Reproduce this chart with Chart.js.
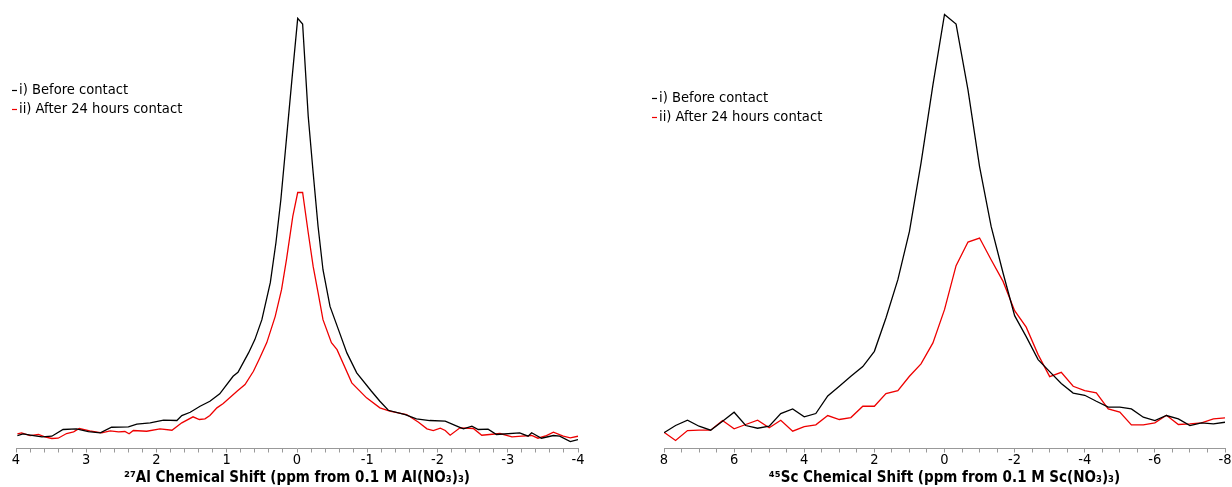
<!DOCTYPE html>
<html lang="en">
<head>
    <meta charset="UTF-8">
    <title>NMR Chemical Shift</title>
    <script src="https://cdn.jsdelivr.net/npm/chart.js"></script>
    <style>
        body {
            margin: 0;
            background: #fff;
            font-family: "DejaVu Sans Condensed", "DejaVu Sans", sans-serif;
        }
        .panel {
            position: absolute;
            top: 0;
            height: 487px;
        }
        #alBox { left: 0; width: 600px; }
        #scBox { left: 630px; width: 602px; }
    </style>
</head>
<body>

<div class="panel" id="alBox"><canvas id="alChart"></canvas></div>
<div class="panel" id="scBox"><canvas id="scChart"></canvas></div>

<script>
// labels
const seriesLabels = ["i) Before contact", "ii) After 24 hours contact"];
const alTitle = "\u00B2\u2077Al Chemical Shift (ppm from 0.1 M Al(NO\u2083)\u2083)";
const scTitle = "\u2074\u2075Sc Chemical Shift (ppm from 0.1 M Sc(NO\u2083)\u2083)";

// 27Al, before contact (ppm, intensity)
const alBeforeShift = [3.98, 3.90, 3.75, 3.63, 3.49, 3.33, 3.14, 2.97, 2.80, 2.64, 2.40, 2.28, 2.09, 1.90, 1.71, 1.64,
    1.52, 1.38, 1.24, 1.10, 0.91, 0.84, 0.69, 0.60, 0.50, 0.38, 0.30, 0.23, 0.16, 0.075, -0.01, -0.08,
    -0.16, -0.23, -0.30, -0.37, -0.47, -0.59, -0.71, -0.85, -1.06, -1.18, -1.30, -1.54, -1.70, -1.89, -2.11,
    -2.30, -2.37, -2.49, -2.58, -2.72, -2.84, -3.17, -3.29, -3.34, -3.48, -3.65, -3.74, -3.89, -4.00];
const alBefore = [2.96, 3.35, 2.96, 2.67, 2.80, 4.33, 4.49, 3.87, 3.58, 4.85, 4.94, 5.54, 5.85, 6.45, 6.38, 7.52,
    8.27, 9.64, 10.77, 12.46, 16.47, 17.38, 21.8, 24.83, 29.38, 37.81, 46.92, 56.72, 68.86, 83.67, 98.1, 96.8,
    75.7, 62.87, 50.64, 40.77, 32.41, 27.11, 21.8, 17.24, 13.05, 10.77, 8.72, 7.74, 6.77, 6.38, 6.22,
    4.94, 4.49, 5.08, 4.33, 4.40, 3.19, 3.58, 2.80, 3.58, 2.35, 2.96, 2.80, 1.59, 2.05];

// 27Al, after 24 hours contact
const alAfterShift = [3.98, 3.92, 3.80, 3.68, 3.59, 3.49, 3.40, 3.28, 3.18, 3.10, 2.95, 2.78, 2.66, 2.54, 2.45, 2.39,
    2.33, 2.14, 1.95, 1.78, 1.64, 1.48, 1.39, 1.31, 1.24, 1.14, 1.05, 0.85, 0.74, 0.62, 0.53, 0.43, 0.31,
    0.22, 0.15, 0.06, -0.01, -0.08, -0.16, -0.23, -0.30, -0.37, -0.49, -0.57, -0.78, -0.99, -1.18, -1.32,
    -1.56, -1.73, -1.85, -1.94, -2.04, -2.11, -2.18, -2.32, -2.51, -2.63, -2.89, -3.06, -3.20, -3.34, -3.43,
    -3.55, -3.65, -3.79, -3.89, -4.00];
const alAfter = [3.35, 3.58, 2.96, 3.19, 2.67, 2.28, 2.35, 3.42, 3.80, 4.56, 4.03, 3.58, 4.03, 3.80, 3.87, 3.35,
    4.10, 3.94, 4.49, 4.17, 5.85, 7.22, 6.61, 6.77, 7.52, 9.27, 10.25, 13.12, 14.58, 17.61, 20.66, 24.15, 30.14,
    36.22, 43.05, 52.92, 58.38, 58.38, 49.2, 41.53, 35.54, 29.38, 24.15, 22.55, 14.97, 11.55, 9.27, 8.50,
    7.74, 5.99, 4.49, 4.10, 4.62, 4.10, 3.03, 4.72, 4.56, 3.03, 3.42, 2.67, 2.80, 2.96, 2.35,
    2.96, 3.71, 2.80, 2.44, 2.80];

// 45Sc, both spectra on the same ppm grid
const scShift = [8.00, 7.67, 7.33, 7.00, 6.67, 6.33, 6.00, 5.67, 5.33, 5.00, 4.67, 4.33, 4.00, 3.67, 3.33, 3.00,
    2.67, 2.33, 2.00, 1.67, 1.33, 1.00, 0.67, 0.33, 0.00, -0.33, -0.67, -1.00, -1.33, -1.67, -2.00, -2.33,
    -2.67, -3.00, -3.33, -3.67, -4.00, -4.33, -4.67, -5.00, -5.33, -5.67, -6.00, -6.33, -6.67, -7.00, -7.33,
    -7.67, -8.00];
const scBefore = [3.58, 5.24, 6.45, 5.08, 4.17, 6.22, 8.27, 5.24, 4.62, 5.08, 7.97, 9.04, 7.22, 7.97, 12.0, 14.19,
    16.47, 18.68, 22.16, 29.77, 38.5, 49.5, 65.08, 82.92, 99.0, 96.8, 81.78, 64.3, 50.64, 40.02, 30.3, 25.51,
    20.27, 17.54, 14.81, 12.64, 12.14, 10.77, 9.45, 9.45, 9.04, 7.13, 6.38, 7.52, 6.77, 5.24, 5.85,
    5.63, 5.99];
const scAfter = [3.71, 1.82, 4.10, 4.17, 4.17, 6.38, 4.49, 5.47, 6.45, 4.72, 6.45, 3.94, 5.01, 5.40, 7.52, 6.61,
    7.06, 9.64, 9.64, 12.53, 13.21, 16.47, 19.29, 24.08, 31.66, 41.69, 47.08, 48.0, 43.05, 38.11, 31.44, 27.68,
    21.41, 16.4, 17.38, 14.19, 13.21, 12.69, 9.04, 8.31, 5.40, 5.40, 5.85, 7.59, 5.47, 5.63, 5.85,
    6.77, 6.99];

const fontName = "'DejaVu Sans Condensed', 'DejaVu Sans', sans-serif";

function pairs(xs, ys) {
    return xs.map(function (x, i) { return { x: x, y: ys[i] }; });
}

// small legend with a short dash before each label
const dashLegend = {
    id: 'dashLegend',
    afterDraw: function (chart, args, opts) {
        const ctx = chart.ctx;
        ctx.save();
        ctx.font = '14.6px ' + fontName;
        ctx.textBaseline = 'middle';
        chart.data.datasets.forEach(function (ds, i) {
            const y = opts.y + i * opts.gap;
            ctx.strokeStyle = ds.borderColor;
            ctx.lineWidth = 1.2;
            ctx.beginPath();
            ctx.moveTo(opts.x, y + 0.5);
            ctx.lineTo(opts.x + 5, y + 0.5);
            ctx.stroke();
            ctx.fillStyle = '#000';
            ctx.fillText(ds.label, opts.x + 7, y);
        });
        ctx.restore();
    }
};

function makeChart(id, before, after, range, step, title, padding, legendPos) {
    new Chart(document.getElementById(id), {
        type: 'line',
        data: {
            datasets: [
                { label: seriesLabels[0], data: before, borderColor: '#000000', borderWidth: 1.3, pointRadius: 0, tension: 0 },
                { label: seriesLabels[1], data: after, borderColor: '#ee0000', borderWidth: 1.3, pointRadius: 0, tension: 0 }
            ]
        },
        options: {
            responsive: true,
            maintainAspectRatio: false,
            animation: false,
            layout: { padding: padding },
            plugins: {
                legend: { display: false },
                tooltip: { enabled: false },
                dashLegend: legendPos
            },
            scales: {
                x: {
                    type: 'linear',
                    min: -range,
                    max: range,
                    reverse: true,
                    grid: {
                        drawOnChartArea: false,
                        drawTicks: true,
                        tickLength: 4,
                        tickColor: '#999'
                    },
                    border: { display: true, color: '#999', width: 1 },
                    ticks: {
                        stepSize: step,
                        autoSkip: false,
                        maxRotation: 0,
                        padding: 0,
                        color: '#000',
                        font: { family: fontName, size: 14.5, lineHeight: 1 },
                        callback: function (v) {
                            return Math.abs(v - Math.round(v)) < 1e-6 && Math.round(v) % (range / 4) === 0 ? String(Math.round(v)) : '';
                        }
                    },
                    title: {
                        display: true,
                        text: title,
                        color: '#000',
                        padding: { top: 4, bottom: 0 },
                        font: { family: fontName, size: 15, weight: 'bold', lineHeight: 1 }
                    }
                },
                y: { display: false, min: 0, max: 100 }
            }
        },
        plugins: [dashLegend]
    });
}

makeChart('alChart', pairs(alBeforeShift, alBefore), pairs(alAfterShift, alAfter), 4, 0.2, alTitle,
    { left: 16, right: 22, top: 10, bottom: 1 }, { x: 12, y: 90, gap: 19 });
makeChart('scChart', pairs(scShift, scBefore), pairs(scShift, scAfter), 8, 0.5, scTitle,
    { left: 34, right: 7, top: 10, bottom: 1 }, { x: 22, y: 98, gap: 19 });
</script>
</body>
</html>
